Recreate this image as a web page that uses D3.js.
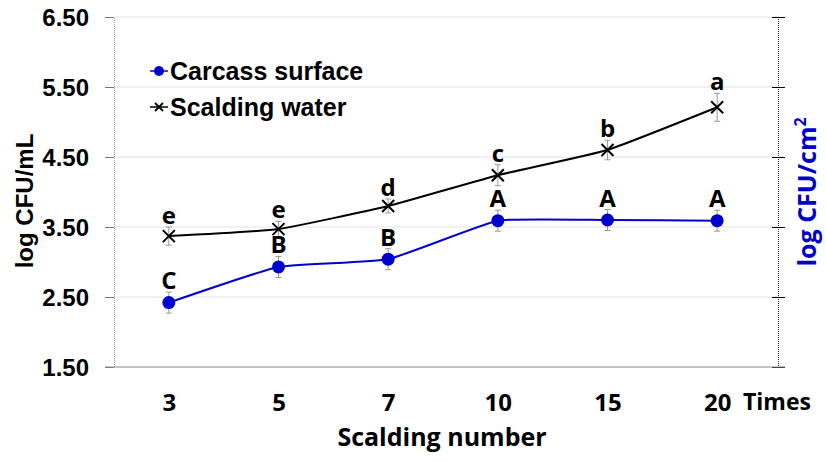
<!DOCTYPE html>
<html>
<head>
<meta charset="utf-8">
<script src="https://cdn.jsdelivr.net/npm/d3@7.9.0/dist/d3.min.js"></script>
<style>
  body { margin: 0; background: #fff; }
  svg { display: block; }
</style>
</head>
<body>
<svg id="chart" width="826" height="461"></svg>
<script>
const scaldings = ['3', '5', '7', '10', '15', '20'];
const waterMean = [3.37, 3.47, 3.80, 4.24, 4.60, 5.21];
const waterErr = [0.13, 0.11, 0.10, 0.15, 0.14, 0.20];
const waterLetters = ['e', 'e', 'd', 'c', 'b', 'a'];
const carcassMean = [2.42, 2.93, 3.04, 3.59, 3.60, 3.59];
const carcassErr = [0.15, 0.15, 0.15, 0.15, 0.15, 0.15];
const carcassLetters = ['C', 'B', 'B', 'A', 'A', 'A'];
const yTicks = [1.5, 2.5, 3.5, 4.5, 5.5, 6.5];

const svg = d3.select('#chart');
const plotLeft = 114, plotRight = 778, plotTop = 17, plotBottom = 367;

const x = d3.scalePoint().domain(scaldings).range([plotLeft, plotRight - 6]).padding(0.5);
const y = d3.scaleLinear().domain([1.5, 6.5]).range([plotBottom, plotTop]);

const armFont = 'Liberation Sans, Arial, sans-serif';
const malgun = 'Open Sans, Noto Sans, sans-serif';

// gridlines
svg.append('g')
  .selectAll('line')
  .data(yTicks.slice(1))
  .join('line')
  .attr('x1', plotLeft).attr('x2', plotRight)
  .attr('y1', (d) => y(d)).attr('y2', (d) => y(d))
  .attr('stroke', '#e2e2e2').attr('stroke-width', 1);

// left axis
const yAxis = svg.append('g')
  .attr('transform', `translate(${plotLeft},0)`)
  .call(d3.axisLeft(y).tickValues(yTicks).tickFormat(d3.format('.2f')).tickSize(9).tickPadding(16));
yAxis.select('.domain').attr('stroke', '#999').attr('stroke-dasharray', '1,1');
yAxis.selectAll('.tick line').attr('stroke', '#777');
yAxis.selectAll('.tick text')
  .attr('font-family', armFont).attr('font-weight', 'bold')
  .attr('font-size', 24).attr('fill', '#000').attr('dy', '0.36em');

// right axis
const yAxisR = svg.append('g')
  .attr('transform', `translate(${plotRight},0)`)
  .call(d3.axisRight(y).tickValues(yTicks).tickFormat('').tickSize(7));
yAxisR.select('.domain').attr('stroke', '#333').attr('stroke-dasharray', '1,1');
yAxisR.selectAll('.tick line').attr('x1', -6).attr('stroke', '#000');

// bottom axis
const xAxis = svg.append('g')
  .attr('transform', `translate(0,${plotBottom})`)
  .call(d3.axisBottom(x).tickSize(0).tickPadding(27));
xAxis.select('.domain').attr('stroke', '#888').attr('d', `M${plotLeft - 9},0H${plotRight + 7}`);
xAxis.selectAll('.tick text')
  .attr('font-family', malgun).attr('font-weight', 'bold')
  .attr('font-size', 24).attr('fill', '#000');

svg.append('text')
  .attr('x', 743).attr('y', 410)
  .attr('font-family', malgun).attr('font-weight', 'bold').attr('font-size', 23)
  .text('Times');

svg.append('text')
  .attr('x', 442).attr('y', 446).attr('text-anchor', 'middle')
  .attr('font-family', malgun).attr('font-weight', 'bold').attr('font-size', 25)
  .text('Scalding number');

svg.append('text')
  .attr('transform', 'translate(33,201) rotate(-90)').attr('text-anchor', 'middle')
  .attr('font-family', armFont).attr('font-weight', 'bold').attr('font-size', 24)
  .text('log CFU/mL');

const rLabel = svg.append('text')
  .attr('transform', 'translate(816,192) rotate(-90)').attr('text-anchor', 'middle')
  .attr('font-family', malgun).attr('font-weight', 'bold').attr('font-size', 25)
  .attr('fill', '#0000cc');
rLabel.append('tspan').text('log CFU/cm');
rLabel.append('tspan').attr('font-size', 16).attr('dy', '-0.6em').text('2');

const line = d3.line()
  .x((d, i) => x(scaldings[i]))
  .y((d) => y(d))
  .curve(d3.curveCardinal.tension(0.6));

function drawSeries(means, errs, letters, color, marker) {
  const g = svg.append('g');
  g.append('path').attr('d', line(means))
    .attr('fill', 'none').attr('stroke', color).attr('stroke-width', 2);

  means.forEach((m, i) => {
    const cx = x(scaldings[i]);
    const y1 = y(m + errs[i]), y0 = y(m - errs[i]);
    g.append('line').attr('x1', cx).attr('x2', cx).attr('y1', y1).attr('y2', y0)
      .attr('stroke', '#999').attr('stroke-width', 1);
    [y1, y0].forEach((yy) => {
      g.append('line').attr('x1', cx - 3).attr('x2', cx + 3).attr('y1', yy).attr('y2', yy)
        .attr('stroke', '#999').attr('stroke-width', 1);
    });
    marker(g, cx, y(m));
    g.append('text').attr('x', cx).attr('y', y1 - 3).attr('text-anchor', 'middle')
      .attr('font-family', malgun).attr('font-weight', 'bold').attr('font-size', 24)
      .text(letters[i]);
  });
}

const dot = (g, cx, cy) => g.append('circle').attr('cx', cx).attr('cy', cy).attr('r', 6.5).attr('fill', '#0000cc');
const cross = (g, cx, cy) => g.append('path')
  .attr('d', `M${cx - 6},${cy - 6}L${cx + 6},${cy + 6}M${cx - 6},${cy + 6}L${cx + 6},${cy - 6}`)
  .attr('stroke', '#000').attr('stroke-width', 2);

drawSeries(waterMean, waterErr, waterLetters, '#000', cross);
drawSeries(carcassMean, carcassErr, carcassLetters, '#0000cc', dot);

// legend
const legend = svg.append('g');
const legendItems = [
  { label: 'Carcass surface', color: '#0000cc', marker: (g, cx, cy) => g.append('circle').attr('cx', cx).attr('cy', cy).attr('r', 5).attr('fill', '#0000cc') },
  { label: 'Scalding water', color: '#000', marker: (g, cx, cy) => g.append('path')
      .attr('d', `M${cx - 4},${cy - 4}L${cx + 4},${cy + 4}M${cx - 4},${cy + 4}L${cx + 4},${cy - 4}`)
      .attr('stroke', '#000').attr('stroke-width', 1.8) }
];
legendItems.forEach((d, i) => {
  const cy = 71 + i * 36;
  legend.append('line').attr('x1', 150).attr('x2', 168).attr('y1', cy).attr('y2', cy)
    .attr('stroke', d.color).attr('stroke-width', 1.5);
  d.marker(legend, 159, cy);
  legend.append('text').attr('x', 170).attr('y', cy + 9)
    .attr('font-family', armFont).attr('font-weight', 'bold').attr('font-size', 25)
    .text(d.label);
});
</script>
</body>
</html>
